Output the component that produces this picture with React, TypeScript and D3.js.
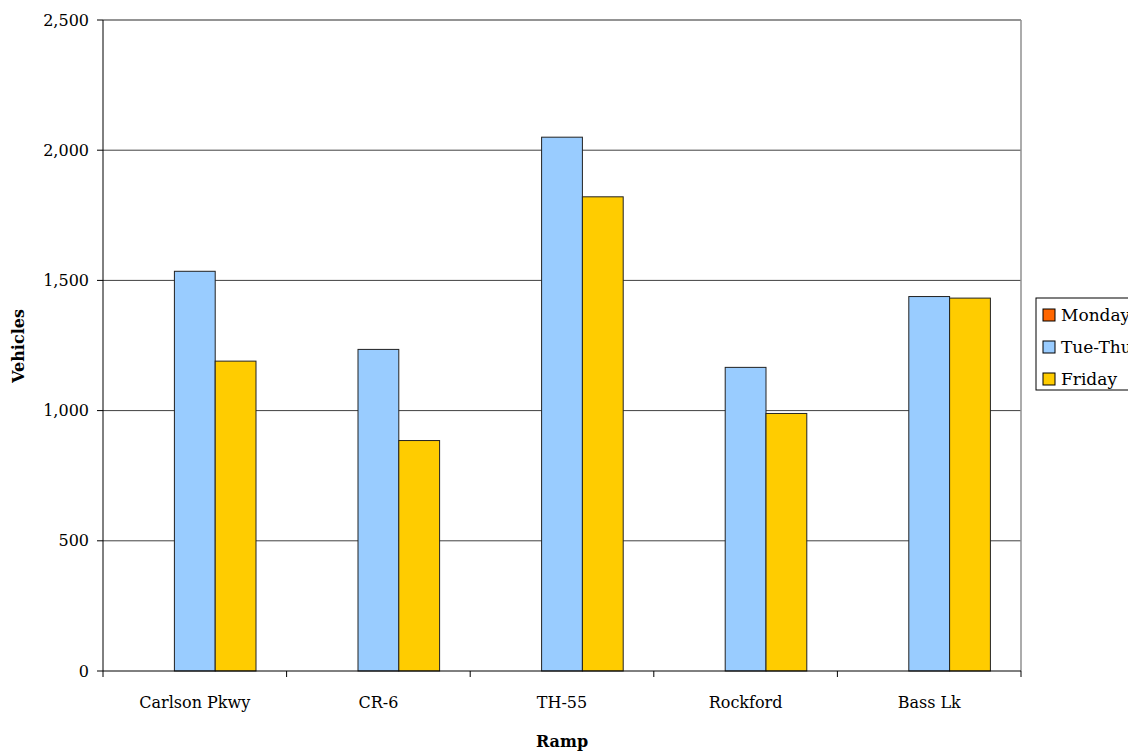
import React from "react";
import * as d3 from "d3";

const categories = ["Carlson Pkwy", "CR-6", "TH-55", "Rockford", "Bass Lk"];
const seriesNames = ["Monday", "Tue-Thu", "Friday"];
const seriesColors = ["#FF6600", "#99CCFF", "#FFCC00"];
const mondayValues = [0, 0, 0, 0, 0];
const tueThuValues = [1535, 1235, 2050, 1166, 1438];
const fridayValues = [1190, 885, 1821, 989, 1432];
const yTicks = [0, 500, 1000, 1500, 2000, 2500];

const W = 1128;
const H = 753;
const left = 103;
const right = 1021;
const top = 20;
const bottom = 671;
const font = "'DejaVu Serif', serif";

export default function App() {
  const series = [mondayValues, tueThuValues, fridayValues];
  const x = d3.scaleBand().domain(categories).range([left, right]).padding(0);
  const y = d3.scaleLinear().domain([0, 2500]).range([bottom, top]);
  const bw = x.bandwidth() / 4.5;
  const fmt = d3.format(",");

  return (
    <svg width={W} height={H} style={{ position: "absolute", left: 0, top: 0 }}>
      <rect x={0} y={0} width={W} height={H} fill="#fff" />
      {yTicks.slice(1).map((t) => (
        <line key={t} x1={left} x2={right} y1={y(t)} y2={y(t)} stroke="#404040" strokeWidth={1} />
      ))}
      <line x1={right} x2={right} y1={top} y2={bottom} stroke="#909090" strokeWidth={1.5} />
      <line x1={left} x2={right} y1={top} y2={top} stroke="#909090" strokeWidth={1.5} />
      {categories.map((c, i) =>
        series.map((vals, s) => {
          const v = vals[i];
          if (v <= 0) return null;
          const bx = (x(c) as number) + bw * 0.75 + s * bw;
          return (
            <rect
              key={c + s}
              x={bx}
              y={y(v)}
              width={bw}
              height={y(0) - y(v)}
              fill={seriesColors[s]}
              stroke="#222"
              strokeWidth={1}
            />
          );
        })
      )}
      <line x1={left} x2={left} y1={top} y2={bottom} stroke="#000" strokeWidth={1} />
      <line x1={left} x2={right} y1={bottom} y2={bottom} stroke="#000" strokeWidth={1} />
      {yTicks.map((t) => (
        <g key={t}>
          <line x1={left - 6} x2={left} y1={y(t)} y2={y(t)} stroke="#000" />
          <text x={left - 14} y={y(t)} dy="0.35em" textAnchor="end" fontFamily={font} fontSize={16}>
            {fmt(t)}
          </text>
        </g>
      ))}
      {[...categories.map((c) => x(c) as number), right].map((px, i) => (
        <line key={i} x1={px} x2={px} y1={bottom} y2={bottom + 6} stroke="#000" />
      ))}
      {categories.map((c) => (
        <text
          key={c}
          x={(x(c) as number) + x.bandwidth() / 2}
          y={708}
          textAnchor="middle"
          fontFamily={font}
          fontSize={16}
        >
          {c}
        </text>
      ))}
      <text x={562} y={747} textAnchor="middle" fontFamily={font} fontSize={16} fontWeight="bold">
        Ramp
      </text>
      <text
        transform={`translate(24,346) rotate(-90)`}
        textAnchor="middle"
        fontFamily={font}
        fontSize={16}
        fontWeight="bold"
      >
        Vehicles
      </text>
      <rect x={1036} y={298} width={100} height={92} fill="#fff" stroke="#000" strokeWidth={1} />
      {seriesNames.map((n, i) => (
        <g key={n}>
          <rect x={1043} y={309 + i * 32} width={12} height={12} fill={seriesColors[i]} stroke="#000" />
          <text x={1061} y={315 + i * 32} dy="0.35em" fontFamily={font} fontSize={17}>
            {n}
          </text>
        </g>
      ))}
    </svg>
  );
}
